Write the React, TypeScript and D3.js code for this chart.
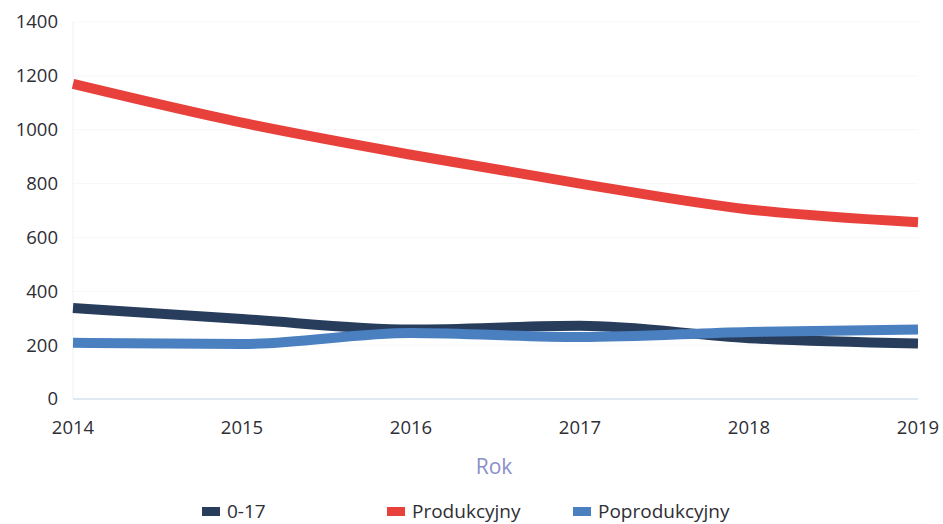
import React from "react";
import * as d3 from "d3";

const years = [2014, 2015, 2016, 2017, 2018, 2019];
const kids = [338, 297, 258, 272, 226, 206];
const working = [1170, 1026, 907, 800, 704, 656];
const retired = [209, 204, 245, 230, 249, 258];
const yTicks = [0, 200, 400, 600, 800, 1000, 1200, 1400];
const seriesNames = ["0-17", "Produkcyjny", "Poprodukcyjny"];
const seriesColors = ["#283d5c", "#e8403a", "#4a7fc0"];

const W = 943;
const H = 524;

export default function App() {
  const x = d3.scaleLinear().domain([2014, 2019]).range([73, 918]);
  const y = d3.scaleLinear().domain([0, 1400]).range([399, 22]);
  const line = d3
    .line<number>()
    .x((_, i) => x(years[i]))
    .y((d) => y(d))
    .curve(d3.curveMonotoneX);
  const series = [kids, working, retired];
  const font = "'Open Sans', 'Noto Sans', sans-serif";
  const legendX = [202, 387, 573];

  return (
    <svg
      width={W}
      height={H}
      style={{ position: "absolute", left: 0, top: 0, background: "#fff" }}
      fontFamily={font}
    >
      {yTicks.map((t) =>
        t === 0 ? null : (
          <line key={t} x1={x(2014)} x2={x(2019)} y1={y(t)} y2={y(t)} stroke="#f7f8fa" strokeWidth={1} />
        )
      )}
      <line x1={x(2014)} x2={x(2014)} y1={y(1400)} y2={y(0)} stroke="#eef0f5" strokeWidth={1} />
      <line x1={x(2014)} x2={x(2019)} y1={y(0)} y2={y(0)} stroke="#d6e0ee" strokeWidth={1.5} />
      {yTicks.map((t) => (
        <text key={t} x={58} y={y(t)} dy="0.35em" textAnchor="end" fontSize={18.5} fill="#2e2e35">
          {t}
        </text>
      ))}
      {years.map((yr) => (
        <text key={yr} x={x(yr)} y={434} textAnchor="middle" fontSize={18.5} fill="#2e2e35">
          {yr}
        </text>
      ))}
      <text x={494} y={474} textAnchor="middle" fontSize={21} fill="#8a8fc8">
        Rok
      </text>
      {series.map((s, i) => (
        <path
          key={i}
          d={line(s) || ""}
          fill="none"
          stroke={seriesColors[i]}
          strokeWidth={10}
          strokeLinejoin="round"
        />
      ))}
      {seriesNames.map((n, i) => (
        <g key={n}>
          <rect x={legendX[i]} y={507} width={18} height={9} fill={seriesColors[i]} />
          <text x={legendX[i] + 25} y={518} fontSize={19} fill="#2e2e35">
            {n}
          </text>
        </g>
      ))}
    </svg>
  );
}
